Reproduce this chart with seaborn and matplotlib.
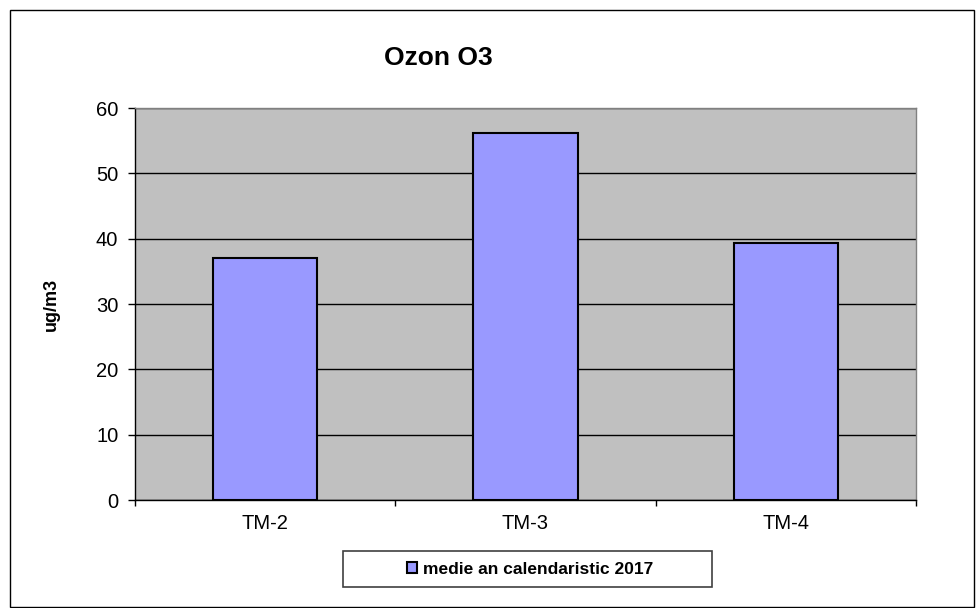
import matplotlib
matplotlib.use("Agg")
import matplotlib.pyplot as plt
import seaborn as sns
import pandas as pd
from matplotlib.patches import Rectangle

categories = ["TM-2", "TM-3", "TM-4"]
values = [37.1, 56.2, 39.4]
series_name = "medie an calendaristic 2017"
yticks = [0, 10, 20, 30, 40, 50, 60]

sns.set_theme(style="white")
plt.rcParams['font.family'] = ['Liberation Sans', 'DejaVu Sans']
plt.rcParams['text.color'] = 'black'
plt.rcParams['axes.labelcolor'] = 'black'
plt.rcParams['xtick.color'] = 'black'
plt.rcParams['ytick.color'] = 'black'

df = pd.DataFrame({"cat": categories, "val": values, "series": series_name})

fig = plt.figure(figsize=(9.76, 6.08), dpi=100)
ax = fig.add_axes([135/976, 1-500/608, (916-135)/976, (500-108)/608])
ax.set_facecolor("#C0C0C0")

sns.barplot(data=df, x="cat", y="val", hue="series",
            palette=["#9999FF"], width=0.4, edgecolor="black", linewidth=1.5,
            ax=ax, legend=False, saturation=1)

ax.set_xlim(-0.5, 2.5)
ax.set_ylim(0, 60)
ax.set_yticks(yticks)
ax.yaxis.grid(True, color="black", linewidth=1)
ax.set_axisbelow(True)
ax.tick_params(axis="y", which="major", direction="out", length=5, width=1,
               color="black", left=True, labelsize=14.5, pad=7)
ax.tick_params(axis="x", which="major", length=0, labelsize=14.5, pad=10)
ax.set_xticks([-0.5, 0.5, 1.5, 2.5], minor=True)
ax.tick_params(axis="x", which="minor", direction="out", length=4, width=1,
               color="black", bottom=True)
ax.set_xlabel("")
ax.set_ylabel("ug/m3", fontsize=13, fontweight="bold", labelpad=26)
for s in ["top", "right"]:
    ax.spines[s].set_color("#808080")
    ax.spines[s].set_linewidth(1)
for s in ["left", "bottom"]:
    ax.spines[s].set_color("black")
    ax.spines[s].set_linewidth(1)

fig.text(438/976, 1-58/608, "Ozon O3", fontsize=19, fontweight="bold",
         ha="center", va="center")

# legend box
legbox = Rectangle((343/976, 1-587/608), (712-343)/976, (587-551)/608,
                   transform=fig.transFigure, facecolor="white",
                   edgecolor="#404040", linewidth=1.2)
fig.patches.append(legbox)
handle = Rectangle((0, 0), 1, 1, facecolor="#9999FF", edgecolor="black", linewidth=1.5)
leg = fig.legend([handle], [series_name], loc="center",
                 bbox_to_anchor=(530/976, 1-569/608), frameon=False,
                 prop={"size": 12.5, "weight": "bold"},
                 handlelength=0.6, handleheight=0.6, handletextpad=0.3,
                 borderpad=0.3, borderaxespad=0)

border = Rectangle((10/976, 0.002), 964/976, 1-10/608-0.002, transform=fig.transFigure,
                   fill=False, edgecolor="black", linewidth=1)
fig.patches.append(border)

fig.savefig("out.png", dpi=100)
